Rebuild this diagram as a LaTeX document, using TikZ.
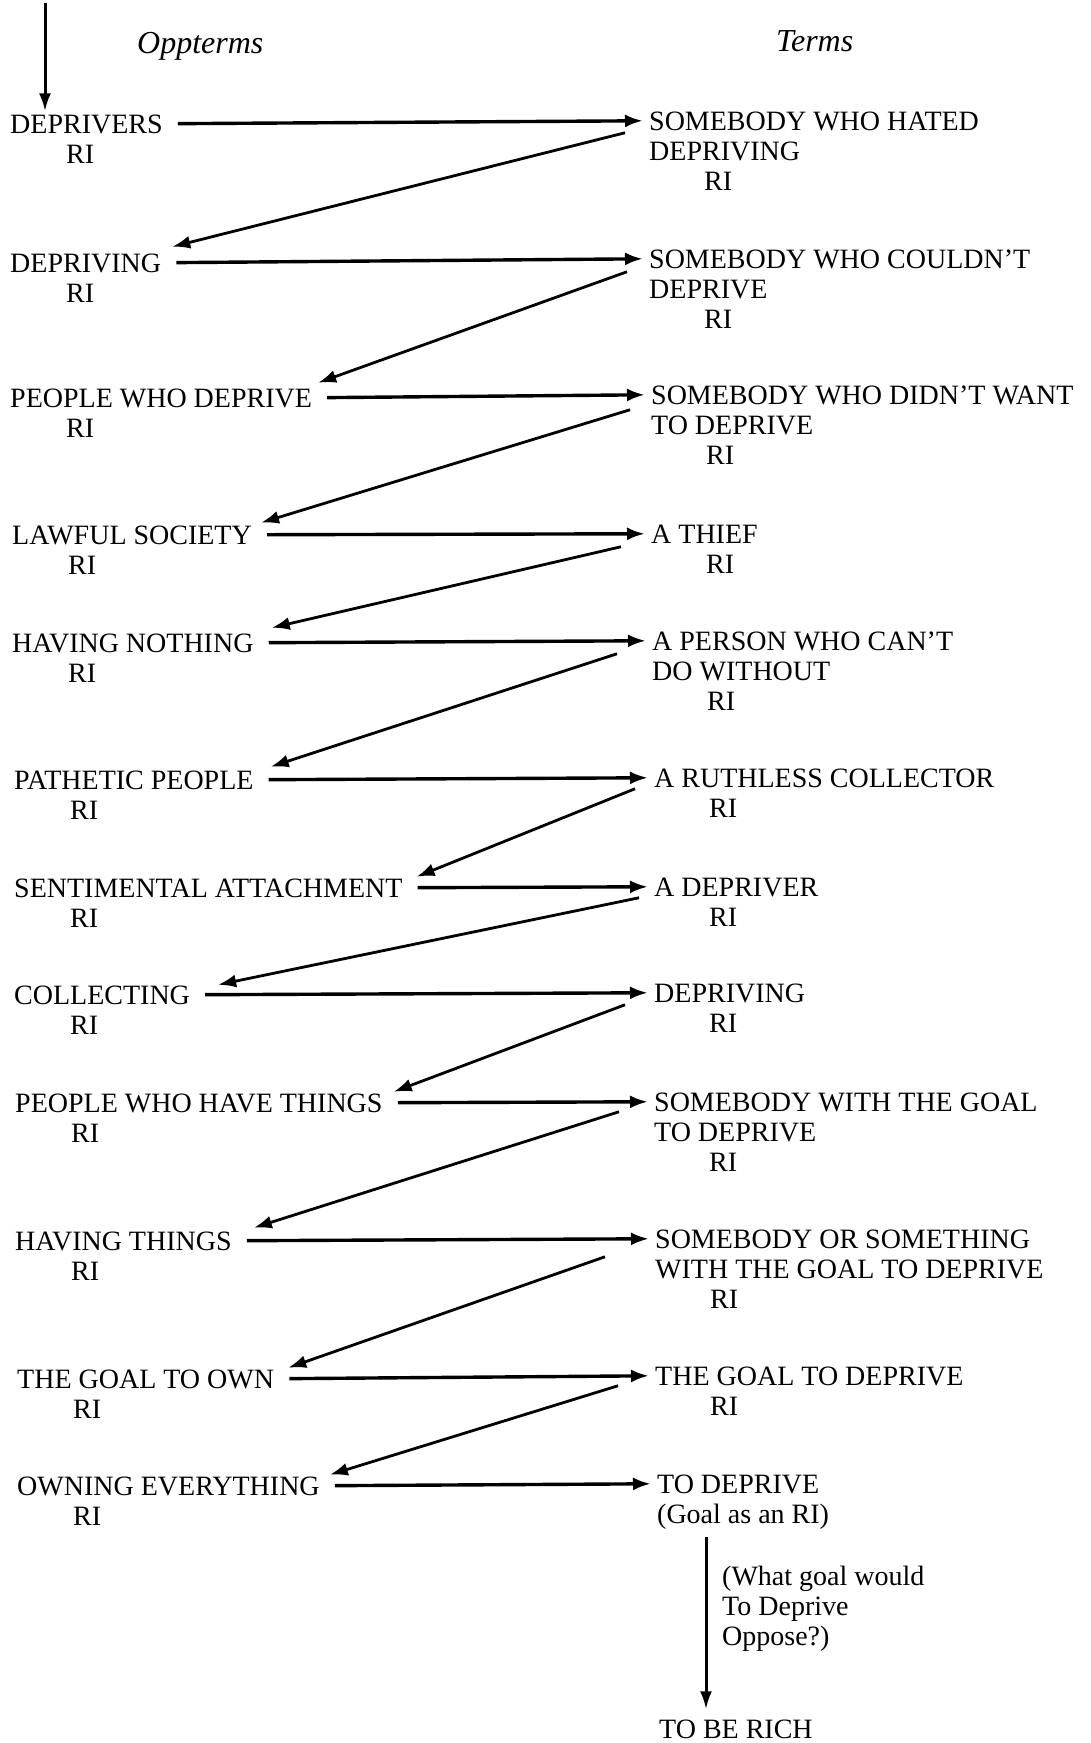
\documentclass[tikz,border=0pt]{standalone}
\usepackage{fontspec}
\setmainfont{Liberation Serif}
\usetikzlibrary{arrows.meta,calc}

\begin{document}
\begin{tikzpicture}[x=1pt,y=-1pt,
    every node/.style={inner sep=0pt,anchor=base west,text height=18.5pt,text depth=0pt,
        font=\fontsize{28}{30}\selectfont},
    head/.style={font=\fontsize{32}{34}\selectfont\itshape},
    across/.style={line width=3.4pt,-{Latex[length=18pt,width=13pt]},shorten <=15pt,shorten >=6pt},
    back/.style={line width=2.8pt,-{Latex[length=18pt,width=13pt]}},
    down/.style={line width=3pt,-{Latex[length=18pt,width=12pt]}}]
    \useasboundingbox (0,0) rectangle (1091,1743);

    % Headings
    \node[head] (hopp) at (137,53) {Oppterms};
    \node[head] (hterm) at (776,51) {Terms};

    % Oppterms
    \node (o1) at (10,133) {DEPRIVERS};
    \node (o1ri) at (66,163) {RI};
    \node (o2) at (10,272) {DEPRIVING};
    \node (o2ri) at (66,302) {RI};
    \node (o3) at (10,407) {PEOPLE WHO DEPRIVE};
    \node (o3ri) at (66,437) {RI};
    \node (o4) at (12,544) {LAWFUL SOCIETY};
    \node (o4ri) at (68,574) {RI};
    \node (o5) at (12,652) {HAVING NOTHING};
    \node (o5ri) at (68,682) {RI};
    \node (o6) at (14,789) {PATHETIC PEOPLE};
    \node (o6ri) at (70,819) {RI};
    \node (o7) at (14,897) {SENTIMENTAL ATTACHMENT};
    \node (o7ri) at (70,927) {RI};
    \node (o8) at (14,1004) {COLLECTING};
    \node (o8ri) at (70,1034) {RI};
    \node (o9) at (15,1112) {PEOPLE WHO HAVE THINGS};
    \node (o9ri) at (71,1142) {RI};
    \node (o10) at (15,1250) {HAVING THINGS};
    \node (o10ri) at (71,1280) {RI};
    \node (o11) at (17,1388) {THE GOAL TO OWN};
    \node (o11ri) at (73,1418) {RI};
    \node (o12) at (17,1495) {OWNING EVERYTHING};
    \node (o12ri) at (73,1525) {RI};

    % Terms
    \node (t1) at (649,130) {SOMEBODY WHO HATED};
    \node (t1a) at (649,160) {DEPRIVING};
    \node (t1ri) at (704,190) {RI};
    \node (t2) at (649,268) {SOMEBODY WHO COULDN'T};
    \node (t2a) at (649,298) {DEPRIVE};
    \node (t2ri) at (704,328) {RI};
    \node (t3) at (651,404) {SOMEBODY WHO DIDN'T WANT};
    \node (t3a) at (651,434) {TO DEPRIVE};
    \node (t3ri) at (706,464) {RI};
    \node (t4) at (651,543) {A THIEF};
    \node (t4ri) at (706,573) {RI};
    \node (t5) at (652,650) {A PERSON WHO CAN'T};
    \node (t5a) at (652,680) {DO WITHOUT};
    \node (t5ri) at (707,710) {RI};
    \node (t6) at (654,787) {A RUTHLESS COLLECTOR};
    \node (t6ri) at (709,817) {RI};
    \node (t7) at (654,896) {A DEPRIVER};
    \node (t7ri) at (709,926) {RI};
    \node (t8) at (654,1002) {DEPRIVING};
    \node (t8ri) at (709,1032) {RI};
    \node (t9) at (654,1111) {SOMEBODY WITH THE GOAL};
    \node (t9a) at (654,1141) {TO DEPRIVE};
    \node (t9ri) at (709,1171) {RI};
    \node (t10) at (655,1248) {SOMEBODY OR SOMETHING};
    \node (t10a) at (655,1278) {WITH THE GOAL TO DEPRIVE};
    \node (t10ri) at (710,1308) {RI};
    \node (t11) at (655,1385) {THE GOAL TO DEPRIVE};
    \node (t11ri) at (710,1415) {RI};
    \node (t12) at (657,1493) {TO DEPRIVE};
    \node (t12a) at (657,1523) {(Goal as an RI)};
    \node (rich) at (659,1738) {TO BE RICH};

    % Question
    \node (q1) at (722,1585) {(What goal would};
    \node (q2) at (722,1615) {To Deprive};
    \node (q3) at (722,1645) {Oppose?)};

    % Entry arrow
    \coordinate (start) at (45,3);
    \draw[down] (start) -- ($(start |- o1.north)+(0,-3)$);

    % Oppterm to term
    \draw[across] (o1.east) -- (t1.west);
    \draw[across] (o2.east) -- (t2.west);
    \draw[across] (o3.east) -- (t3.west);
    \draw[across] (o4.east) -- (t4.west);
    \draw[across] (o5.east) -- (t5.west);
    \draw[across] (o6.east) -- (t6.west);
    \draw[across] (o7.east) -- (t7.west);
    \draw[across] (o8.east) -- (t8.west);
    \draw[across] (o9.east) -- (t9.west);
    \draw[across] (o10.east) -- (t10.west);
    \draw[across] (o11.east) -- (t11.west);
    \draw[across] (o12.east) -- (t12.west);

    % Term back to next oppterm
    \draw[back] ($(t1.west)+(-24,12)$) -- ($(o2.east)+(11,-16)$);
    \draw[back] ($(t2.west)+(-22,13)$) -- ($(o3.east)+(6,-15)$);
    \draw[back] ($(t3.west)+(-21,15)$) -- ($(o4.east)+(9,-12)$);
    \draw[back] ($(t4.west)+(-30,13)$) -- ($(o5.east)+(18,-15)$);
    \draw[back] ($(t5.west)+(-35,13)$) -- ($(o6.east)+(17,-13)$);
    \draw[back] ($(t6.west)+(-19,11)$) -- ($(o7.east)+(14,-11)$);
    \draw[back] ($(t7.west)+(-15,11)$) -- ($(o8.east)+(28,-10)$);
    \draw[back] ($(t8.west)+(-29,12)$) -- ($(o9.east)+(11,-11)$);
    \draw[back] ($(t9.west)+(-35,10)$) -- ($(o10.east)+(22,-13)$);
    \draw[back] ($(t10.west)+(-50,18)$) -- ($(o11.east)+(14,-11)$);
    \draw[back] ($(t11.west)+(-37,10)$) -- ($(o12.east)+(10,-11)$);

    % Opposing goal
    \draw[down] ($(t12a.base west)+(49,14)$) coordinate (goal) -- ($(goal |- rich.north)+(0,-10)$);

\end{tikzpicture}
\end{document}
